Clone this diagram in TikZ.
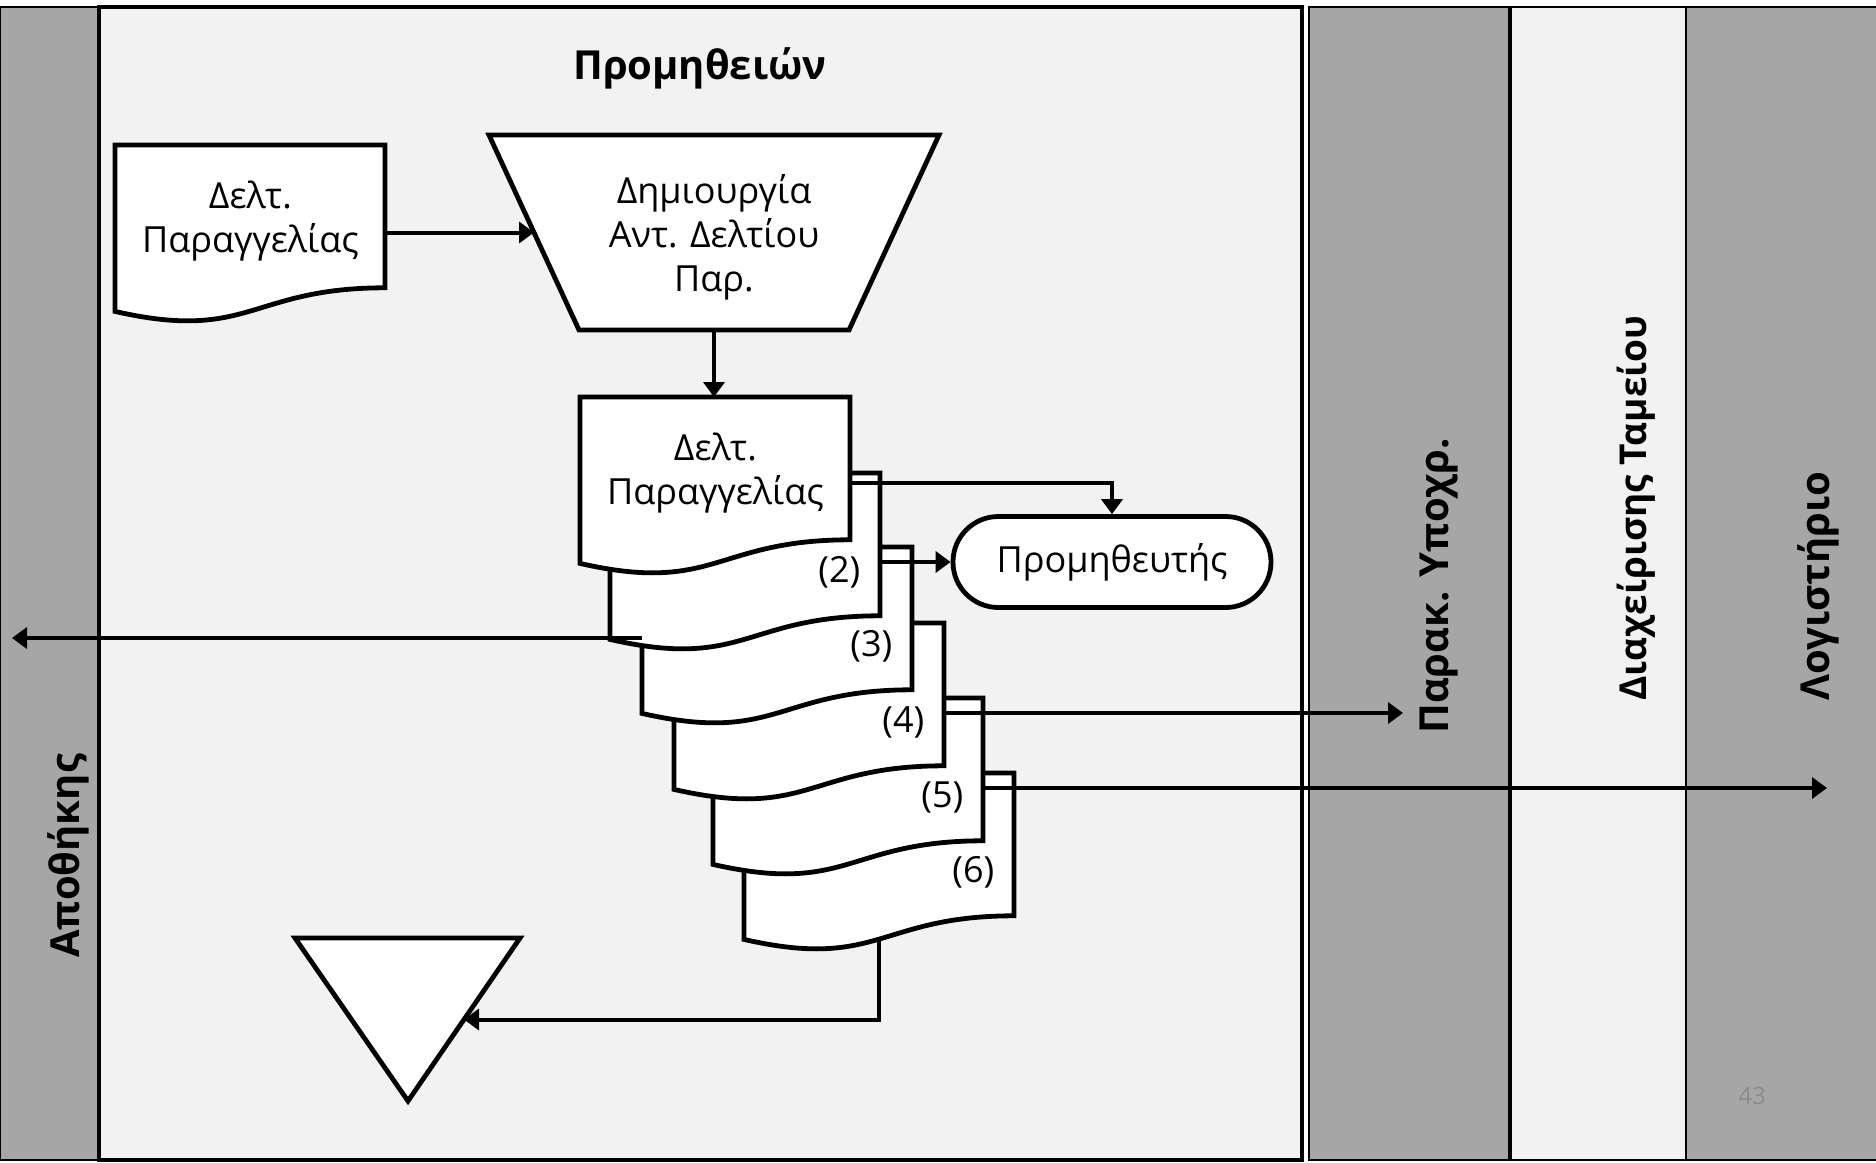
\documentclass[tikz,border=0pt]{standalone}
\usepackage{fontspec}
\setmainfont{Open Sans}
\usetikzlibrary{arrows.meta,calc}

\definecolor{laneGrey}{HTML}{A6A6A6}
\definecolor{laneLight}{HTML}{F2F2F2}
\definecolor{pageNum}{HTML}{8C8C8C}

% document symbol: name, top-left x, top-left y, text
\newcommand{\docshape}[4]{%
  \begin{scope}[shift={(#2,#3)}]
    \draw[docline] (0,0) -- (135,0) -- (135,71.4)
      .. controls (67.5,71.4) and (67.5,98.6) .. (0,83.2) -- cycle;
  \end{scope}
  \node[doctext, anchor=north west] (#1) at (#2,#3) {#4};
}

\begin{document}
\begin{tikzpicture}[x=1pt, y=-1pt,
    docline/.style={line width=2.4pt, fill=white},
    doctext/.style={minimum width=135pt, minimum height=76pt, inner sep=0pt,
      align=center, font=\fontsize{18}{22}\selectfont},
    numtext/.style={inner sep=0pt, font=\fontsize{18}{22}\selectfont},
    lanethin/.style={line width=0.8pt},
    lanethick/.style={line width=1.8pt},
    lanelabel/.style={font=\bfseries\fontsize{20}{24}\selectfont},
    flow/.style={line width=2pt, -{Triangle[length=7.5pt,width=10.5pt]}}]

    \useasboundingbox (0,0) rectangle (938,581.5);

    % lanes
    \draw[lanethin, fill=laneGrey] (0,3.5) rectangle (49.5,580);
    \draw[lanethick, fill=laneLight] (49.5,3.5) rectangle (651,580);
    \draw[lanethin, fill=laneGrey] (654.5,3.5) rectangle (755,580);
    \draw[lanethin, fill=laneLight] (755,3.5) rectangle (843,580);
    \draw[lanethick] (755,3.5) -- (755,580);
    \draw[lanethin, fill=laneGrey] (843,3.5) rectangle (940,580);

    \node[lanelabel] (purch) at (350,34) {Προμηθειών};
    \node[lanelabel, rotate=90] (store) at (34,428) {Αποθήκης};
    \node[lanelabel, rotate=90] (payables) at (719.5,293) {Παρακ. Υποχρ.};
    \node[lanelabel, rotate=90, font=\bfseries\fontsize{18.5}{22}\selectfont]
      (cash) at (818,254) {Διαχείρισης Ταμείου};
    \node[lanelabel, rotate=90] (ledger) at (909,293) {Λογιστήριο};
    \node[text=pageNum, font=\fontsize{12}{14}\selectfont] (pg) at (876,548) {43};

    % order form
    \docshape{doc1}{57.5}{72.5}{Δελτ.\\Παραγγελίας}

    % manual operation
    \coordinate (tTL) at (244.5,67.5);
    \coordinate (tTR) at (469.5,67.5);
    \coordinate (tBR) at (424.5,165);
    \coordinate (tBL) at (289.5,165);
    \draw[docline] (tTL) -- (tTR) -- (tBR) -- (tBL) -- cycle;
    \node[align=center, font=\fontsize{18}{22}\selectfont] (make) at (357,118.5)
      {Δημιουργία\\Αντ. Δελτίου\\Παρ.};
    \coordinate (tW) at ($(tTL)!.5!(tBL)$);
    \coordinate (tS) at ($(tBL)!.5!(tBR)$);

    % copies, bottom one first
    \docshape{c6}{372}{386.5}{}
    \node[numtext] (n6) at ([xshift=47pt, yshift=-11.5pt]c6.center) {(6)};
    \docshape{c5}{356.5}{349}{}
    \node[numtext] (n5) at ([xshift=47pt, yshift=-11.5pt]c5.center) {(5)};
    \docshape{c4}{337}{311.5}{}
    \node[numtext] (n4) at ([xshift=47pt, yshift=-11.5pt]c4.center) {(4)};
    \docshape{c3}{321}{273.5}{}
    \node[numtext] (n3) at ([xshift=47pt, yshift=-11.5pt]c3.center) {(3)};
    \docshape{c2}{305}{236.5}{}
    \node[numtext] (n2) at ([xshift=47pt, yshift=-11.5pt]c2.center) {(2)};
    \docshape{d1}{290}{198.5}{Δελτ.\\Παραγγελίας}

    \node[draw, line width=2.4pt, fill=white, rounded corners=22.7pt,
      minimum width=159pt, minimum height=45.5pt,
      font=\fontsize{18}{22}\selectfont] (sup) at (556,281) {Προμηθευτής};

    % file
    \coordinate (triL) at (147.5,469);
    \coordinate (triR) at (260,469);
    \coordinate (triB) at (204,550.5);
    \draw[docline] (triL) -- (triR) -- (triB) -- cycle;
    \coordinate (triE) at ($(triR)!.5!(triB)$);

    \coordinate (wh) at (6,319);
    \coordinate (pay) at (701.5,356.5);
    \coordinate (acc) at (913.5,394);

    % flows
    \draw[flow] (doc1.east |- tW) -- (tW);
    \draw[flow] (tS) -- (tS |- d1.north);
    \draw[flow] ([yshift=-5pt]d1.east) -| (sup);
    \draw[flow] (c2.east |- sup) -- (sup);
    \draw[flow] (c3.west |- wh) -- (wh);
    \draw[flow] (c4.east |- pay) -- (pay);
    \draw[flow] (c5.east |- acc) -- (acc);
    \draw[flow] ([yshift=-7pt]c6.south) |- (triE);

\end{tikzpicture}
\end{document}
